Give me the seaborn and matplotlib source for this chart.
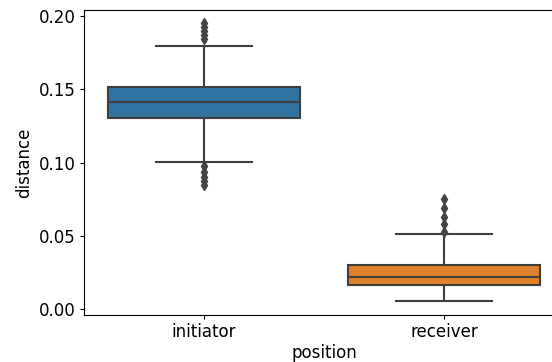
import pandas as pd
import matplotlib
matplotlib.use("Agg")
import matplotlib.pyplot as plt
import seaborn as sns

# values
initiator = [0.0848, 0.0875, 0.0905, 0.0935, 0.0977, 0.1003, 0.1180, 0.1302,
             0.1330, 0.1350, 0.1370, 0.1385, 0.1395, 0.1405, 0.1416, 0.1430,
             0.1445, 0.1460, 0.1475, 0.1490, 0.1505, 0.1514, 0.1650, 0.1797,
             0.1845, 0.1870, 0.1900, 0.1925, 0.1951]
receiver = [0.0056, 0.0090, 0.0115, 0.0130, 0.0145, 0.0155, 0.0162, 0.0168,
            0.0175, 0.0185, 0.0192, 0.0200, 0.0207, 0.0213, 0.0219, 0.0228,
            0.0240, 0.0252, 0.0265, 0.0280, 0.0295, 0.0306, 0.0360, 0.0511,
            0.0530, 0.0580, 0.0630, 0.0690, 0.0755]
positions = ["initiator", "receiver"]
colors = ["#1f77b4", "#ff7f0e"]

df = pd.DataFrame({
    "position": [positions[0]] * len(initiator) + [positions[1]] * len(receiver),
    "distance": initiator + receiver,
})

plt.rcParams["font.family"] = ["DejaVu Sans"]
plt.rcParams["font.size"] = 12

fig = plt.figure(figsize=(5.52, 3.62), dpi=100)
# axes run past the right edge, as in the cropped reference
ax = fig.add_axes([84 / 552, 47 / 362, 480 / 552, 304.5 / 362])

sns.boxplot(data=df, x="position", y="distance", hue="position",
            palette=colors, legend=False, linewidth=1.5, ax=ax,
            flierprops=dict(marker="d", markersize=5.5,
                            markerfacecolor="#444444", markeredgecolor="#444444"))

ax.set_ylim(-0.0038, 0.2038)
ax.set_yticks([0.0, 0.05, 0.10, 0.15, 0.20])
ax.set_yticklabels(["0.00", "0.05", "0.10", "0.15", "0.20"])
ax.tick_params(labelsize=12, length=3, pad=3)
ax.set_xlabel("position", fontsize=12, labelpad=2)
ax.set_ylabel("distance", fontsize=12)

fig.savefig("out.png", dpi=100)
plt.close(fig)
